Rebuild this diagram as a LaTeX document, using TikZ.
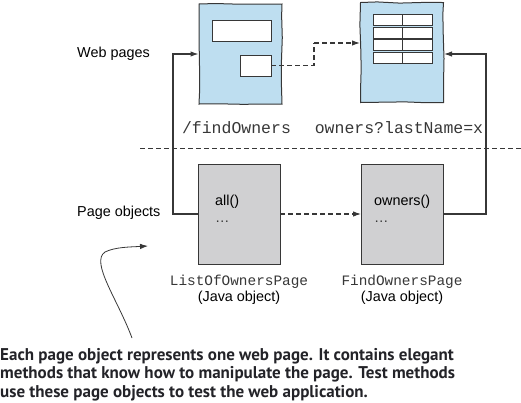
\documentclass[tikz,border=0pt]{standalone}
\usepackage{fontspec}
\setmainfont{Liberation Sans}
\setmonofont{Liberation Mono}
\newfontfamily\capfont{PT Sans}
\usepackage{tikz}
\usetikzlibrary{arrows.meta,decorations.pathmorphing}
\definecolor{pageblue}{RGB}{190,222,240}
\definecolor{objgray}{RGB}{208,208,210}
\definecolor{inkgray}{RGB}{55,55,55}
\definecolor{capink}{RGB}{35,35,40}
\begin{document}
\pgfmathsetseed{7}
\begin{tikzpicture}
[every node/.style={inner sep=0pt},
 lbl/.style={font=\fontsize{14.4}{17}\selectfont, text=black},
 url/.style={font=\fontsize{16.5}{19}\ttfamily, text=inkgray},
 cls/.style={align=center, font=\fontsize{14.4}{15.5}\selectfont, text=black},
 webpage/.style={rectangle, minimum width=83pt, minimum height=100pt, fill=pageblue, draw=inkgray, line width=1pt,
   decorate, decoration={random steps, segment length=22pt, amplitude=0.7pt}},
 field/.style={rectangle, fill=white, draw=inkgray, line width=0.9pt},
 pageobj/.style={rectangle, minimum width=82pt, minimum height=100pt, fill=objgray, draw=inkgray, line width=0.9pt},
 wire/.style={line width=1.1pt, draw=inkgray},
 dash5/.style={dash pattern=on 5pt off 3pt},
 tip/.style={-{Latex[length=8pt,width=5.5pt]}}]
\useasboundingbox (0pt, 0pt) rectangle (521pt, -402pt);
% web pages
\node (p1) [webpage] at (240.5pt, -54pt) {};
\node (p2) [webpage] at (402pt, -52.5pt) {};
\node (f1) [field, minimum width=59pt, minimum height=21pt] at (241.5pt, -30.5pt) {};
\node (f2) [field, minimum width=31pt, minimum height=21pt] at (255.5pt, -65.5pt) {};
\foreach \i in {1,...,4} {
  \node (ra\i) [field, minimum width=29.5pt, minimum height=11pt] at (387.75pt, -7.5pt-\i*12.6pt) {};
  \node (rb\i) [field, minimum width=29.5pt, minimum height=11pt] at (417.25pt, -7.5pt-\i*12.6pt) {};
}
% page objects
\node (lp) [pageobj] at (239pt, -214pt) {};
\node (fp) [pageobj] at (402.5pt, -214pt) {};
\node (m1) [lbl, anchor=west] at (215pt, -202pt) {all()};
\node (m2) [lbl, anchor=west] at (215pt, -222pt) {\textcolor{inkgray}{…}};
\node (m3) [lbl, anchor=west] at (374pt, -202pt) {owners()};
\node (m4) [lbl, anchor=west] at (374pt, -222pt) {\textcolor{inkgray}{…}};
% labels
\node (wp) [lbl, anchor=west] at (77pt, -54pt) {Web pages};
\node (po) [lbl, anchor=west] at (77pt, -213pt) {Page objects};
\node (u1) [url] at (236.5pt, -128pt) {/findOwners};
\node (u2) [url] at (399pt, -128pt) {owners?lastName=x};
\node (c1) [cls] at (239pt, -290pt) {\textcolor{inkgray}{\texttt{ListOfOwnersPage}}\\(Java object)};
\node (c2) [cls] at (402pt, -290pt) {\textcolor{inkgray}{\texttt{FindOwnersPage}}\\(Java object)};
\node (cap) [anchor=base west, align=left, font=\capfont\bfseries\fontsize{17}{18.5}\selectfont, text=capink] at (0pt, -397pt)
  {Each page object represents one web page. It contains elegant\\
   methods that know how to manipulate the page. Test methods\\
   use these page objects to test the web application.};
% connectors
\coordinate (k1) at (314pt, -43pt);
\coordinate (k2) at (173pt, -54pt);
\coordinate (k3) at (486pt, -54pt);
\coordinate (d1) at (140pt, -148pt);
\coordinate (d2) at (521pt, -148pt);
\coordinate (s0) at (132pt, -338pt);
\draw [wire, dash5] (f2.east) -| (k1);
\draw [wire, dash5, tip] (k1) -- (k1 -| p2.west);
\draw [wire, tip] (lp.west) -| (k2) -- (k2 -| p1.west);
\draw [wire, tip] (fp.east) -| (k3) -- (k3 -| p2.east);
\draw [wire, dash5, tip] (lp.east) -- (fp.west);
\draw [line width=0.8pt, inkgray, dash5] (d1) -- (d2);
\draw [line width=0.8pt, inkgray, tip] (s0) .. controls (118pt, -300pt) and (90pt, -262pt) .. (105pt, -252pt)
  .. controls (115pt, -247pt) and (130pt, -247pt) .. (148pt, -246pt);
\end{tikzpicture}
\end{document}
